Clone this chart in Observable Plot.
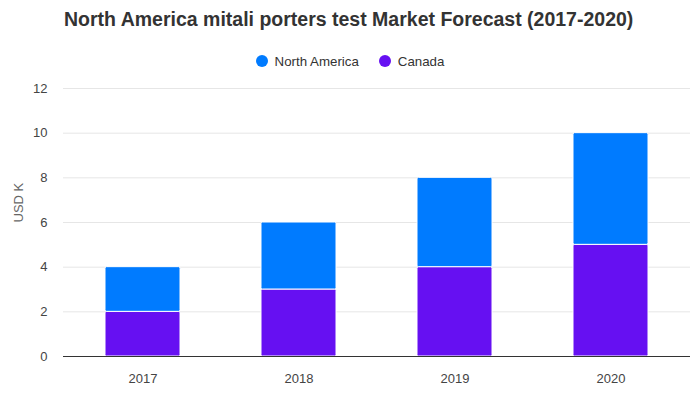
<!DOCTYPE html>
<html>
<head>
<meta charset="utf-8">
<script src="https://cdn.jsdelivr.net/npm/d3@7"></script>
<script src="https://cdn.jsdelivr.net/npm/@observablehq/plot@0.6"></script>
<style>
  body { margin: 0; background: #fff; font-family: "Liberation Sans", Arial, sans-serif; }
  #wrap { width: 700px; height: 400px; position: relative; }
  #title { height: 44px; box-sizing: border-box; padding: 8px 0 0 64px; font-size: 19.5px; font-weight: bold; color: #333; white-space: nowrap; }
  #legend { height: 34px; display: flex; justify-content: center; align-items: center; font-size: 13.3px; color: #333; box-sizing: border-box; }
  .item { display: flex; align-items: center; margin: 0 10px; }
  .dot { width: 12px; height: 12px; border-radius: 50%; margin-right: 7px; }
  svg { display: block; }
</style>
</head>
<body>
<div id="wrap">
  <div id="title">North America mitali porters test Market Forecast (2017-2020)</div>
  <div id="legend"></div>
  <div id="chart"></div>
</div>
<script>
const years = ["2017", "2018", "2019", "2020"];
const seriesNames = ["North America", "Canada"];
const seriesColors = ["#007bff", "#6610f2"];
const northAmerica = [2, 3, 4, 5];
const canada = [2, 3, 4, 5];
const yTicks = [0, 2, 4, 6, 8, 10, 12];
const yLabel = "USD K";

const rows = [];
years.forEach((y, i) => {
  rows.push({year: y, series: "Canada", value: canada[i]});
  rows.push({year: y, series: "North America", value: northAmerica[i]});
});

const legend = document.getElementById("legend");
seriesNames.forEach((s, i) => {
  const it = document.createElement("div");
  it.className = "item";
  it.innerHTML = `<span class="dot" style="background:${seriesColors[i]}"></span><span>${s}</span>`;
  legend.appendChild(it);
});

const chart = Plot.plot({
  width: 700,
  height: 322,
  marginTop: 10,
  marginBottom: 44,
  marginLeft: 63,
  marginRight: 10,
  style: {fontFamily: "Liberation Sans, Arial, sans-serif", fontSize: "13px", color: "#444", background: "#fff"},
  x: {domain: years, paddingInner: 0.52, paddingOuter: 0.26, label: null, tickSize: 0, tickPadding: 17},
  y: {domain: [0, 12], ticks: yTicks, label: null, tickSize: 0, tickPadding: 16},
  color: {domain: seriesNames, range: seriesColors},
  marks: [
    Plot.gridY(yTicks.filter(t => t > 0), {stroke: "#e6e6e6", strokeOpacity: 1}),
    Plot.barY(rows, Plot.stackY({order: ["Canada", "North America"]}, {x: "year", y: "value", fill: "series", stroke: "white", strokeWidth: 1, rx: 1.5})),
    Plot.ruleY([0], {stroke: "#333", strokeWidth: 1.2}),
    Plot.text([yLabel], {frameAnchor: "left", dx: -45, rotate: -90, text: d => d, fill: "#666", fontSize: 13})
  ]
});
document.getElementById("chart").appendChild(chart);
</script>
</body>
</html>
